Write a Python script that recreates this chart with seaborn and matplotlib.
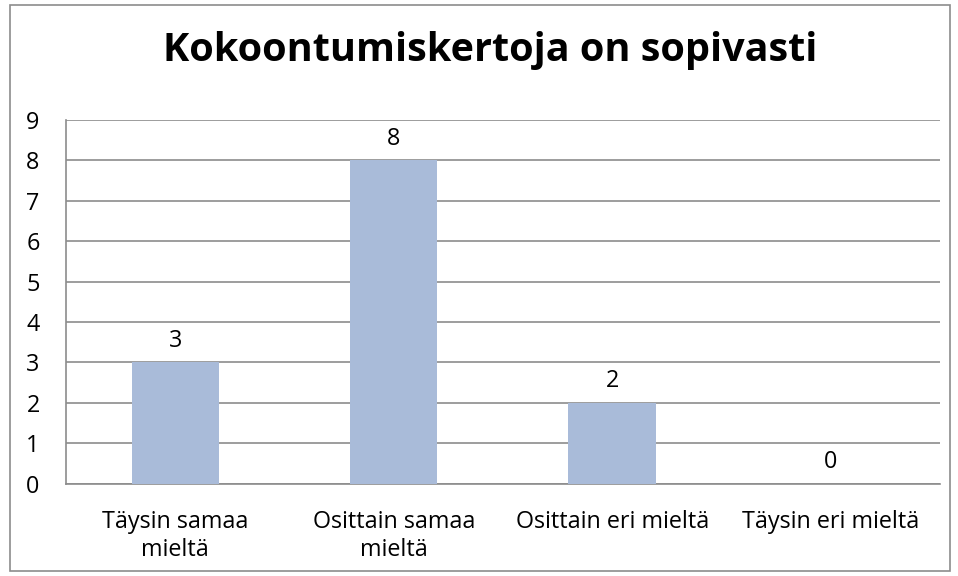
import pandas as pd
import matplotlib.pyplot as plt
import seaborn as sns
from matplotlib.patches import Rectangle

categories = ["Täysin samaa\nmieltä", "Osittain samaa\nmieltä", "Osittain eri mieltä", "Täysin eri mieltä"]
counts = [3, 8, 2, 0]

df = pd.DataFrame({"category": categories, "count": counts})

sns.set_style("white")
plt.rcParams["font.family"] = ["Open Sans", "DejaVu Sans"]
plt.rcParams["text.color"] = "black"

fig = plt.figure(figsize=(9.58, 5.76), dpi=100)
ax = fig.add_axes([0.069, 0.16, 0.912, 0.632])

sns.barplot(data=df, x="category", y="count", color="#A9BBD9", width=0.4,
            saturation=1, linewidth=0, ax=ax, zorder=3)

ax.set_ylim(0, 9)
ax.set_yticks(range(0, 10))
ax.set_xlim(-0.5, 3.5)
ax.yaxis.grid(True, color="#8C8C8C", linewidth=1.2, zorder=0)
ax.set_axisbelow(True)
for s in ["top", "right"]:
    ax.spines[s].set_visible(False)
for s in ["left", "bottom"]:
    ax.spines[s].set_color("#8C8C8C")
    ax.spines[s].set_linewidth(1.2)
ax.tick_params(axis="both", length=0, labelsize=16.8, colors="black")
ax.tick_params(axis="x", pad=19)
ax.tick_params(axis="y", pad=19)
for lbl in ax.get_xticklabels():
    lbl.set_linespacing(1.2)
ax.set_xlabel("")
ax.set_ylabel("")

for i, v in enumerate(counts):
    ax.annotate(str(v), (i, v), xytext=(0, 7), textcoords="offset points",
                ha="center", va="bottom", fontsize=16.8, color="black")

fig.text(0.512, 0.913, "Kokoontumiskertoja on sopivasti", ha="center", va="center",
         fontsize=28.5, fontweight="bold", color="black")

fig.patches.append(Rectangle((0.0105, 0.008), 0.981, 0.984, transform=fig.transFigure,
                             fill=False, edgecolor="#8C8C8C", linewidth=1.2))

fig.savefig("out.png", dpi=100)
